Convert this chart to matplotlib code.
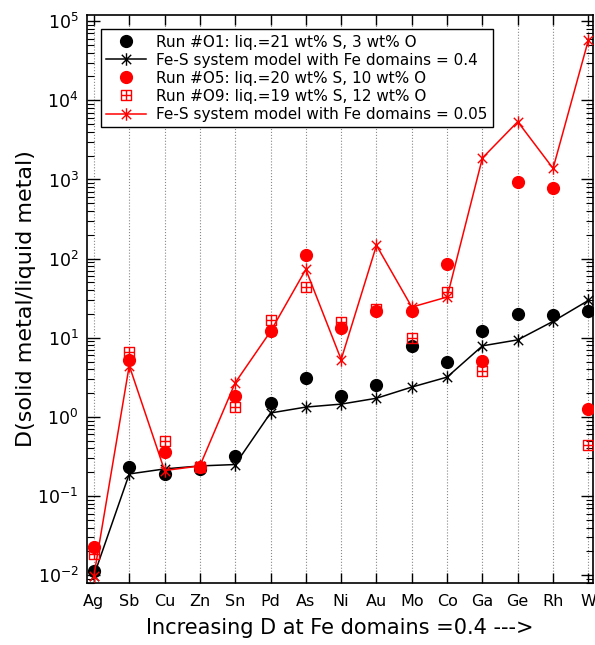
import numpy as np
import matplotlib
matplotlib.use("Agg")
import matplotlib.pyplot as plt
from matplotlib.path import Path
from matplotlib.lines import Line2D

# elements, ordered by increasing D at Fe domains = 0.4
elements = ["Ag", "Sb", "Cu", "Zn", "Sn", "Pd", "As", "Ni", "Au", "Mo",
            "Co", "Ga", "Ge", "Rh", "W"]

# Run #O1 (21 wt% S, 3 wt% O)
run_o1 = [0.0114, 0.23, 0.19, 0.22, 0.32, 1.5, 3.1, 1.83, 2.56, 7.9,
          4.9, 12.0, 19.7, 19.2, 21.5]
# Fe-S model, Fe domains = 0.4
model_04 = [0.0099, 0.19, 0.22, 0.24, 0.25, 1.12, 1.33, 1.45, 1.72, 2.38,
            3.18, 7.9, 9.4, 16.1, 29.6]
# Run #O5 (20 wt% S, 10 wt% O)
run_o5 = [0.023, 5.2, 0.36, 0.23, 1.86, 12.2, 112, 13.2, 21.5, 21.8,
          86, 5.1, 935, 770, 1.24]
# Run #O9 (19 wt% S, 12 wt% O), no value for Ge and Rh
run_o9 = [0.0185, 6.7, 0.49, 0.23, 1.33, 16.9, 44, 15.8, 22.8, 10.0,
          37.9, 3.8, np.nan, np.nan, 0.44]
# Fe-S model, Fe domains = 0.05
model_005 = [0.0099, 4.45, 0.21, 0.24, 2.7, 12.0, 73, 5.3, 147, 24.4,
             32.7, 1870, 5370, 1380, 57800]

# asterisk = vertical bar + X
star_mk = Path([(0, -1), (0, 1), (-0.75, -0.75), (0.75, 0.75), (-0.75, 0.75), (0.75, -0.75)],
               [Path.MOVETO, Path.LINETO] * 3)
# square with a cross inside
sq_mk = Path([(-1, -1), (1, -1), (1, 1), (-1, 1), (-1, -1),
              (0, -1), (0, 1), (-1, 0), (1, 0)],
             [Path.MOVETO, Path.LINETO, Path.LINETO, Path.LINETO, Path.CLOSEPOLY,
              Path.MOVETO, Path.LINETO, Path.MOVETO, Path.LINETO])

plt.rcParams['font.family'] = ['DejaVu Sans']

fig = plt.figure(figsize=(5.95, 6.45), dpi=100)
ax = fig.add_axes([0.146, 0.096, 0.85, 0.881])

x = np.arange(len(elements))

for xi in x:
    ax.axvline(xi, color='#888888', linestyle=':', linewidth=0.8, zorder=0)

ax.plot(x, model_04, color='black', linewidth=1.1, marker=star_mk, markersize=9,
        markeredgewidth=1.0, zorder=3)
ax.plot(x, run_o1, linestyle='none', marker='o', color='black', markersize=8.5, zorder=4)
ax.plot(x, model_005, color='red', linewidth=1.1, marker=star_mk, markersize=9,
        markeredgewidth=1.0, zorder=5)
ax.plot(x, run_o9, linestyle='none', marker=sq_mk, markersize=7, color='red',
        markerfacecolor='none', markeredgewidth=1.0, zorder=6)
ax.plot(x, run_o5, linestyle='none', marker='o', color='red', markersize=8.5, zorder=7)

ax.set_yscale('log')
ax.set_ylim(10 ** -2.1, 10 ** 5.08)
ax.set_xlim(-0.2, 14.12)
ax.set_xticks(x)
ax.set_xticklabels(elements, fontsize=11.5)
ax.tick_params(axis='x', which='major', direction='in', top=True, length=7, width=1, pad=8)
ax.tick_params(axis='y', which='major', direction='in', right=True, length=9, width=1,
               labelsize=12.5, pad=6)
ax.tick_params(axis='y', which='minor', direction='in', right=True, length=5, width=0.8)
ax.set_ylabel('D(solid metal/liquid metal)', fontsize=16, labelpad=1)
ax.set_xlabel('Increasing D at Fe domains =0.4 --->', fontsize=15, labelpad=6)
for sp in ax.spines.values():
    sp.set_linewidth(1.2)

handles = [
    Line2D([], [], linestyle='none', marker='o', color='black', markersize=8.5),
    Line2D([], [], color='black', linewidth=1.1, marker=star_mk, markersize=9),
    Line2D([], [], linestyle='none', marker='o', color='red', markersize=8.5),
    Line2D([], [], linestyle='none', marker=sq_mk, markersize=7, color='red',
           markerfacecolor='none'),
    Line2D([], [], color='red', linewidth=1.1, marker=star_mk, markersize=9),
]
labels = [
    "Run #O1: liq.=21 wt% S, 3 wt% O",
    "Fe-S system model with Fe domains = 0.4",
    "Run #O5: liq.=20 wt% S, 10 wt% O",
    "Run #O9: liq.=19 wt% S, 12 wt% O",
    "Fe-S system model with Fe domains = 0.05",
]
leg = ax.legend(handles, labels, loc='upper left', bbox_to_anchor=(0.012, 0.988),
                fontsize=11, frameon=True, fancybox=False, edgecolor='black',
                framealpha=1, handlelength=2.6, labelspacing=0.2, borderpad=0.35,
                handletextpad=0.7)
leg.get_frame().set_linewidth(1.0)

fig.savefig('out.png', dpi=100)
